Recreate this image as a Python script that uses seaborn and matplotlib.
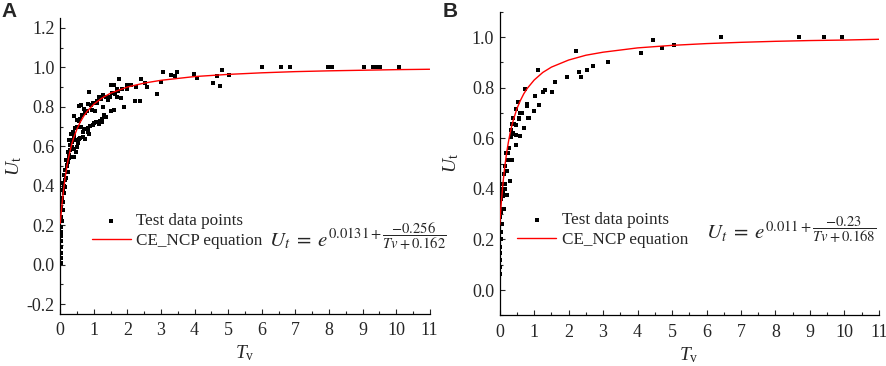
import numpy as np
import pandas as pd
import matplotlib
matplotlib.use('Agg')
import matplotlib.pyplot as plt
import seaborn as sns
from matplotlib.ticker import MultipleLocator, FormatStrFormatter

# ---- panel A: test data points ----
tv_a = [0.01, 0.01, 0.01, 0.01, 0.01, 0.01, 0.02, 0.01, 0.05, 0.02, 0.07, 0.02, 0.09, 0.05,
        0.12, 0.07, 0.15, 0.09, 0.17, 0.12, 0.22, 0.15, 0.19, 0.25, 0.17, 0.32, 0.27, 0.22,
        0.47, 0.42, 0.35, 0.29, 0.52, 0.25, 0.47, 0.57, 0.74, 0.67, 0.42, 0.86, 0.32, 0.37,
        0.82, 0.71, 0.62, 0.57, 1.06, 1.14, 1.24, 0.49, 0.42, 1.31, 1.04, 0.96, 0.71, 1.26,
        0.55, 0.62, 0.91, 0.82, 1.16, 1.26, 0.86,
        0.98, 1.08, 1.14, 1.28, 1.43, 1.48, 1.60, 1.68, 1.72, 1.75, 1.63, 1.70, 1.98, 1.99,
        1.90, 2.27, 2.22, 2.37, 2.39, 2.52, 2.59, 1.82, 1.52, 1.37, 1.17, 1.00, 0.88, 0.79,
        1.52, 1.60, 0.34, 0.41, 0.51, 0.59, 0.69, 0.83, 0.98, 1.15, 1.23,
        0.10, 0.13, 0.20, 0.23, 0.30, 0.35, 0.40, 0.45, 0.50, 0.60, 0.65, 0.75, 0.80, 1.10,
        1.20, 1.35, 1.55, 1.85, 2.10,
        2.89, 2.99, 3.05, 3.29, 3.42, 3.48, 3.99, 4.06, 4.54, 4.66, 4.76, 4.81, 5.03, 6.01,
        6.56, 6.84, 7.98, 8.10, 9.05, 9.32, 9.42, 9.52, 10.09]
ut_a = [0.010, 0.034, 0.059, 0.092, 0.118, 0.143, 0.168, 0.193, 0.219, 0.244, 0.277, 0.294,
        0.319, 0.336, 0.362, 0.378, 0.395, 0.412, 0.437, 0.454, 0.471, 0.479, 0.504, 0.538,
        0.530, 0.546, 0.555, 0.571, 0.571, 0.588, 0.597, 0.605, 0.614, 0.630, 0.630, 0.639,
        0.639, 0.647, 0.656, 0.664, 0.664, 0.672, 0.672, 0.689, 0.697, 0.728, 0.723, 0.714,
        0.723, 0.735, 0.751, 0.756, 0.778, 0.782, 0.790, 0.798, 0.802, 0.807, 0.807, 0.815,
        0.849, 0.857, 0.874,
        0.820, 0.830, 0.850, 0.860, 0.835, 0.850, 0.910, 0.890, 0.880, 0.940, 0.865, 0.850,
        0.910, 0.890, 0.800, 0.900, 0.830, 0.830, 0.940, 0.920, 0.900, 0.844, 0.908, 0.750,
        0.730, 0.716, 0.702, 0.689, 0.777, 0.783, 0.630, 0.546, 0.597, 0.644, 0.670, 0.690,
        0.710, 0.720, 0.740,
        0.400, 0.430, 0.500, 0.520, 0.580, 0.620, 0.640, 0.690, 0.700, 0.740, 0.760, 0.770,
        0.780, 0.820, 0.840, 0.850, 0.870, 0.890, 0.910,
        0.864, 0.924, 0.975, 0.962, 0.957, 0.978, 0.965, 0.945, 0.921, 0.955, 0.904, 0.988,
        0.963, 1.0, 1.0, 1.0, 1.0, 1.0, 1.0, 1.0, 1.0, 1.0, 1.0]

# ---- panel A: CE_NCP equation curve ----
curve_tv_a = [0, 0.025, 0.05, 0.1, 0.15, 0.2, 0.25, 0.3, 0.35, 0.4, 0.5, 0.6, 0.7, 0.8, 1.0,
              1.25, 1.5, 2, 2.5, 3, 4, 5, 6, 7, 8, 9, 10, 11]
curve_ut_a = [0.209, 0.258, 0.303, 0.381, 0.446, 0.500, 0.544, 0.582, 0.615, 0.643, 0.688,
              0.724, 0.753, 0.777, 0.813, 0.845, 0.869, 0.900, 0.920, 0.934, 0.953, 0.964,
              0.972, 0.978, 0.982, 0.985, 0.988, 0.990]

# ---- panel B: test data points ----
tv_b = [8.69, 9.42, 9.92, 6.42, 4.44, 4.10, 4.71, 5.06, 2.21, 3.13, 2.72, 2.52, 2.31, 2.35,
        1.94, 1.61, 1.51, 1.30, 1.27, 1.10, 1.15, 1.03, 1.00, 0.83, 0.80, 0.78, 0.72, 0.71,
        0.60, 0.59, 0.56, 0.52, 0.47, 0.46, 0.46, 0.38, 0.40, 0.35, 0.37, 0.32, 0.30, 0.25,
        0.22, 0.20, 0.19, 0.16, 0.15, 0.13, 0.11, 0.09, 0.07, 0.04, 0.04, 0.08, 0.03, 0.04,
        0.01, 0.01, 0.01, 0.01, 0.01, 0.65, 0.57, 0.41, 0.34, 0.36, 0.47, 0.70, 0.84, 0.28,
        0.24, 0.10, 0.14, 0.09, 0.22, 0.12, 0.02, 0.05]
ut_b = [1.0, 1.0, 1.0, 1.0, 0.987, 0.938, 0.957, 0.967, 0.943, 0.900, 0.886, 0.871, 0.861,
        0.841, 0.842, 0.822, 0.783, 0.790, 0.783, 0.868, 0.730, 0.767, 0.707, 0.680, 0.726,
        0.734, 0.796, 0.641, 0.700, 0.608, 0.678, 0.743, 0.572, 0.651, 0.717, 0.678, 0.622,
        0.655, 0.513, 0.605, 0.430, 0.513, 0.376, 0.470, 0.540, 0.490, 0.420, 0.460, 0.320,
        0.370, 0.400, 0.360, 0.310, 0.260, 0.200, 0.230, 0.170, 0.145, 0.120, 0.090, 0.065,
        0.700, 0.675, 0.658, 0.632, 0.616, 0.612, 0.642, 0.679, 0.563, 0.540, 0.418, 0.400,
        0.388, 0.375, 0.322, 0.290, 0.260]

curve_tv_b = [0, 0.025, 0.05, 0.1, 0.15, 0.2, 0.25, 0.3, 0.35, 0.4, 0.5, 0.6, 0.7, 0.8, 1.0,
              1.25, 1.5, 2, 2.5, 3, 4, 5, 6, 7, 8, 9, 10, 11]
curve_ut_b = [0.257, 0.307, 0.352, 0.429, 0.491, 0.541, 0.583, 0.619, 0.649, 0.674, 0.717,
              0.749, 0.776, 0.797, 0.830, 0.860, 0.881, 0.909, 0.928, 0.940, 0.957, 0.967,
              0.974, 0.979, 0.983, 0.986, 0.988, 0.991]

eq_a = r'$U_t\;=\;e^{0.0131+\dfrac{-0.256}{Tv+0.162}}$'
eq_b = r'$U_t\;=\;e^{0.011+\dfrac{-0.23}{Tv+0.168}}$'

sns.set_style('ticks')
plt.rcParams['font.family'] = ['Liberation Serif', 'DejaVu Serif']
plt.rcParams['mathtext.fontset'] = 'custom'
plt.rcParams['mathtext.rm'] = 'Liberation Serif'
plt.rcParams['mathtext.it'] = 'Liberation Serif:italic'
plt.rcParams['axes.unicode_minus'] = False

fig = plt.figure(figsize=(8.86, 3.66), dpi=100)
ax_a = fig.add_axes([0.068, 0.142, 0.417, 0.809])
ax_b = fig.add_axes([0.564, 0.1385, 0.428, 0.8295])


def draw_panel(ax, tv, ut, ctv, cut, ylim, eq, leg_xy, eq_xy, ylpad):
    sns.scatterplot(x=tv, y=ut, ax=ax, marker='s', s=5.5, color='black', linewidth=0,
                    label='Test data points', zorder=2)
    sns.lineplot(x=ctv, y=cut, ax=ax, color='red', linewidth=1.0, estimator=None,
                 label='CE_NCP equation', zorder=3)
    ax.set_xlim(0, 11)
    ax.set_ylim(*ylim)
    ax.xaxis.set_major_locator(MultipleLocator(1))
    ax.xaxis.set_minor_locator(MultipleLocator(0.5))
    ax.yaxis.set_major_locator(MultipleLocator(0.2))
    ax.yaxis.set_minor_locator(MultipleLocator(0.1))
    ax.yaxis.set_major_formatter(FormatStrFormatter('%.1f'))
    ax.tick_params(which='both', direction='in', width=0.8, labelsize=13, pad=4)
    ax.tick_params(axis='x', which='both', pad=6)
    ax.tick_params(which='major', length=3.5)
    ax.tick_params(which='minor', length=2.5)
    sns.despine(ax=ax)
    for s in ['left', 'bottom']:
        ax.spines[s].set_linewidth(0.9)
        ax.spines[s].set_color('black')
    ax.set_xlabel(r'$T_{\mathrm{v}}$', fontsize=14, labelpad=3)
    ax.set_ylabel(r'$U_{\mathrm{t}}$', fontsize=14, labelpad=ylpad)
    ax.legend(loc='upper left', bbox_to_anchor=leg_xy, frameon=False, fontsize=12.3,
              handlelength=2.3, handletextpad=0.3, labelspacing=0.2, borderpad=0,
              borderaxespad=0, markerscale=1.1)
    ax.text(eq_xy[0], eq_xy[1], eq, transform=ax.transAxes, fontsize=15,
            va='baseline', ha='left', math_fontfamily='stix')


draw_panel(ax_a, tv_a, ut_a, curve_tv_a, curve_ut_a, (-0.25, 1.25), eq_a,
           (0.085, 0.34), (0.565, 0.226), 2)
draw_panel(ax_b, tv_b, ut_b, curve_tv_b, curve_ut_b, (-0.1, 1.1), eq_b,
           (0.046, 0.34), (0.544, 0.248), 8)

fig.text(0.002, 0.995, 'A', fontsize=15, fontweight='bold', family='Liberation Sans',
         va='top', ha='left')
fig.text(0.5, 0.995, 'B', fontsize=15, fontweight='bold', family='Liberation Sans',
         va='top', ha='left')

fig.savefig('out.png', dpi=100)
